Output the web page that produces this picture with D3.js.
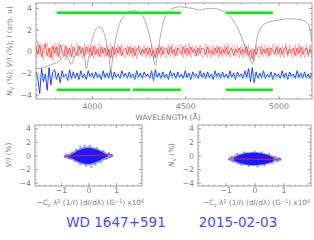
<!DOCTYPE html>
<html>
<head>
<meta charset="utf-8">
<script src="https://cdn.jsdelivr.net/npm/d3@7"></script>
<style>
  body { margin: 0; background: #fff; }
  svg { display: block; }
  text { font-family: "DejaVu Sans", sans-serif; }
</style>
</head>
<body>
<script>
var w = 314;
var h = 240;

// DATA ========================================

// wavelength grid of the polarisation spectra (10 A steps)
var lambdaStart = 3700, lambdaEnd = 5180, lambdaStep = 10;

// intensity spectrum (arb. units), [wavelength, value]
var intensity = [
  [3700,-1.6],[3740,-1.5],[3770,-1.3],[3800,-1.1],[3820,-1.0],[3840,-0.6],[3860,-0.3],
  [3875,-0.7],[3889,-1.2],[3900,-0.8],[3920,0.0],[3935,0.45],[3950,0.3],[3962,-0.6],
  [3970,-1.6],[3980,-0.8],[3995,0.6],[4010,1.6],[4030,2.2],[4045,2.25],[4060,1.9],
  [4075,1.0],[4090,-0.4],[4101,-1.8],[4112,-0.5],[4130,1.4],[4150,2.6],[4180,3.4],
  [4210,3.7],[4230,3.75],[4250,3.6],[4280,3.0],[4300,2.0],[4320,0.5],[4332,-0.8],
  [4340,-1.3],[4350,-0.5],[4365,1.2],[4385,2.8],[4410,3.7],[4440,4.0],[4470,4.1],
  [4500,4.05],[4540,3.95],[4580,3.8],[4620,3.95],[4650,3.95],[4690,3.8],[4730,3.4],
  [4770,2.5],[4800,1.4],[4830,0.0],[4850,-0.8],[4861,-1.15],[4872,-0.3],[4885,1.2],
  [4900,2.0],[4920,2.45],[4950,2.7],[4990,2.85],[5030,2.95],[5060,3.0],[5100,2.95],
  [5130,2.85],[5155,2.6],[5168,2.1],[5176,1.4],[5180,0.9]
];

// V/I (%) spectrum, dark red and light red
var stokesV = [
  0.4,-0.3,0.6,-0.5,0.2,0.7,-0.4,0.3,-0.6,0.5,
  -0.2,0.4,-0.5,0.6,0.1,-0.4,0.5,-0.3,0.3,-0.5,
  0.4,0.0,-0.4,0.5,-0.2,0.3,-0.5,0.4,-0.1,0.3,
  -0.4,0.5,-0.3,0.2,-0.5,0.4,-0.2,0.3,-0.4,0.2,
  -0.6,0.4,-0.3,0.3,-0.2,0.4,-0.4,0.1,0.3,-0.3,
  0.4,-0.2,0.3,-0.4,0.2,0.4,-0.3,0.2,-0.2,0.3,
  -0.3,0.3,-0.4,0.1,-0.6,0.3,-0.2,0.4,-0.3,0.2,
  0.3,-0.3,0.4,-0.2,0.2,-0.4,0.3,0.1,-0.3,0.4,
  -0.2,0.3,-0.3,0.4,-0.1,0.2,-0.4,0.3,-0.2,0.3,
  0.2,-0.3,0.4,-0.2,0.1,-0.3,0.3,-0.2,0.4,-0.3,
  0.2,-0.2,0.4,-0.3,0.1,0.3,-0.4,0.2,-0.1,0.3,
  -0.3,0.2,-0.2,0.4,-0.4,0.1,-0.7,0.2,-0.3,0.3,
  0.4,-0.3,0.2,-0.2,0.3,-0.4,0.3,0.1,-0.3,0.4,
  -0.2,0.3,-0.3,0.2,0.4,-0.3,0.2,-0.2,0.3,-0.4,
  0.3,-0.2,0.4,-0.3,0.1,0.3,-0.3,0.2,-0.1
];
var stokesVLight = [
  -0.6,0.9,-0.3,0.7,-0.8,0.5,0.8,-0.6,0.4,-0.9,
  0.7,-0.4,0.8,-0.7,0.5,0.6,-0.8,0.3,-0.5,0.7,
  -0.6,0.5,0.7,-0.5,0.4,-0.7,0.6,-0.3,0.6,-0.6,
  0.5,-0.7,0.6,-0.4,0.7,-0.5,0.4,-0.6,0.6,-0.5,
  0.7,-0.8,0.5,-0.6,0.6,-0.4,0.7,-0.5,-0.6,0.5,
  -0.5,0.6,-0.6,0.5,-0.7,0.6,0.4,-0.5,0.6,-0.6,
  0.5,-0.6,0.6,-0.8,0.4,-0.5,0.6,-0.6,0.5,-0.4,
  -0.6,0.6,-0.5,0.7,-0.6,0.5,-0.4,0.6,0.5,-0.6,
  0.6,-0.5,0.7,-0.6,0.5,-0.5,0.6,-0.4,0.6,-0.6,
  -0.5,0.7,-0.6,0.5,-0.6,0.6,-0.4,0.6,-0.6,0.5,
  -0.6,0.6,-0.5,0.7,-0.6,0.4,0.6,-0.5,0.6,-0.6,
  0.5,-0.6,0.7,-0.5,0.6,-0.8,0.3,-0.9,0.6,-0.5,
  -0.6,0.7,-0.5,0.6,-0.6,0.5,-0.4,0.6,0.6,-0.5,
  0.6,-0.6,0.5,-0.6,0.7,-0.5,0.6,-0.5,-0.6,0.6,
  -0.5,0.7,-0.6,0.5,-0.6,0.6,-0.5,0.6,-0.6
];

// null profile N_V (%), offset by -2: blue and cyan
var nullV = [
  -1.9,-2.5,-3.9,-1.6,-2.8,-2.1,-3.6,-1.5,-3.1,-1.9,
  -1.7,-2.6,-2.0,-2.9,-1.8,-2.4,-2.1,-2.7,-1.7,-2.5,
  -1.9,-2.5,-2.0,-2.6,-1.8,-2.4,-2.1,-2.6,-1.8,-2.3,
  -2.0,-2.5,-1.9,-2.4,-2.1,-2.6,-1.8,-2.4,-2.0,-2.5,
  -1.7,-2.6,-1.9,-2.4,-2.1,-2.5,-1.8,-2.3,-2.0,-2.5,
  -1.9,-2.4,-2.1,-2.6,-1.8,-2.4,-2.0,-2.5,-1.9,-2.3,
  -2.1,-2.5,-1.8,-2.7,-1.7,-2.4,-2.0,-2.5,-1.9,-2.4,
  -2.1,-2.6,-1.8,-2.3,-2.0,-2.5,-1.9,-2.4,-2.1,-2.5,
  -1.8,-2.4,-2.0,-2.6,-1.9,-2.3,-2.1,-2.5,-1.8,-2.4,
  -2.0,-2.5,-1.9,-2.4,-2.1,-2.6,-1.8,-2.3,-2.0,-2.5,
  -1.9,-2.4,-2.1,-2.5,-1.8,-2.4,-2.0,-2.6,-1.9,-2.3,
  -2.1,-2.5,-1.8,-2.4,-1.6,-2.8,-1.5,-2.9,-1.9,-2.5,
  -2.0,-2.4,-1.8,-2.5,-2.1,-2.4,-1.9,-2.6,-2.0,-2.3,
  -2.1,-2.5,-1.8,-2.4,-2.0,-2.6,-1.9,-2.3,-2.1,-2.5,
  -1.8,-2.4,-2.0,-2.5,-1.9,-2.4,-2.1,-2.5,-2.0
];
var nullVLight = [
  -2.2,-2.5,-2.3,-2.6,-2.1,-2.4,-2.3,-2.5,-2.2,-2.4,
  -2.3,-2.5,-2.2,-2.5,-2.3,-2.4,-2.2,-2.5,-2.3,-2.6,
  -2.2,-2.4,-2.3,-2.4,-2.2,-2.5,-2.3,-2.4,-2.2,-2.4,
  -2.3,-2.5,-2.2,-2.5,-2.3,-2.4,-2.2,-2.5,-2.3,-2.4,
  -2.2,-2.5,-2.3,-2.4,-2.2,-2.5,-2.3,-2.4,-2.2,-2.4,
  -2.3,-2.5,-2.2,-2.5,-2.3,-2.4,-2.2,-2.5,-2.3,-2.4,
  -2.2,-2.4,-2.3,-2.6,-2.2,-2.4,-2.3,-2.5,-2.2,-2.5,
  -2.3,-2.4,-2.2,-2.5,-2.3,-2.5,-2.2,-2.4,-2.3,-2.5,
  -2.2,-2.5,-2.3,-2.4,-2.2,-2.5,-2.3,-2.4,-2.2,-2.4,
  -2.3,-2.5,-2.2,-2.5,-2.3,-2.4,-2.2,-2.5,-2.3,-2.4,
  -2.2,-2.5,-2.3,-2.5,-2.2,-2.4,-2.3,-2.5,-2.2,-2.4,
  -2.3,-2.4,-2.2,-2.5,-2.3,-2.5,-2.1,-2.6,-2.3,-2.4,
  -2.2,-2.5,-2.3,-2.5,-2.2,-2.4,-2.3,-2.5,-2.2,-2.5,
  -2.3,-2.4,-2.2,-2.5,-2.3,-2.5,-2.2,-2.4,-2.3,-2.5,
  -2.2,-2.5,-2.3,-2.4,-2.2,-2.5,-2.3,-2.5,-2.2
];

// spectral regions used in the fit: [from, to, level]
var regions = [
  [3812, 4477, 3.55], [4718, 4970, 3.55],
  [3812, 4205, -3.55], [4220, 4477, -3.55], [4718, 4970, -3.55]
];

var mainXTicks = [4000, 4500, 5000];
var mainYTicks = [-4, -2, 0, 2, 4];
var scatXTicks = [-1, 0, 1];
var scatYTicks = [-4, -2, 0, 2, 4];

// scatter clouds: outer and inner envelope [x, top, bottom]
var cloudVOuter = [[-0.9,-0.05,-0.3],[-0.75,0.2,-0.45],[-0.55,0.5,-0.7],[-0.4,0.95,-1.1],
  [-0.2,1.25,-1.35],[0.0,1.35,-1.5],[0.2,1.2,-1.3],[0.4,0.9,-1.0],[0.6,0.5,-0.6],
  [0.75,0.3,-0.4],[0.9,0.1,-0.15]];
var cloudVInner = [[-0.75,-0.05,-0.25],[-0.55,0.25,-0.45],[-0.4,0.7,-0.85],[-0.2,1.05,-1.15],
  [0.0,1.15,-1.3],[0.2,1.0,-1.1],[0.4,0.7,-0.75],[0.55,0.35,-0.4],[0.7,0.1,-0.15]];
var cloudNOuter = [[-0.9,-0.45,-0.65],[-0.8,-0.2,-0.85],[-0.6,0.15,-1.15],[-0.4,0.4,-1.4],
  [-0.2,0.5,-1.5],[0.0,0.55,-1.55],[0.2,0.45,-1.5],[0.4,0.3,-1.35],[0.6,0.0,-1.05],
  [0.8,-0.3,-0.85],[0.92,-0.45,-0.7]];
var cloudNInner = [[-0.7,-0.3,-0.8],[-0.5,0.1,-1.1],[-0.3,0.35,-1.35],[0.0,0.45,-1.45],
  [0.3,0.3,-1.3],[0.5,0.0,-1.1],[0.65,-0.3,-0.85]];

// stray points at the cloud edges [x, y]
var strayV = [[-0.85,-0.1],[-0.8,0.15],[-0.7,-0.4],[-0.6,0.45],[-0.5,-0.75],[-0.45,0.85],
  [-0.3,1.3],[-0.15,1.45],[0.05,1.4],[0.1,-1.65],[-0.1,-1.5],[0.3,1.05],[0.45,-1.0],
  [0.55,0.65],[0.65,-0.5],[0.75,0.35],[0.85,0.05],[0.8,-0.2],[-0.3,-1.3],[0.25,-1.35]];
var strayN = [[-0.88,-0.5],[-0.8,-0.25],[-0.75,-0.85],[-0.6,0.2],[-0.55,-1.15],[-0.35,0.45],
  [-0.2,-1.5],[0.0,0.55],[0.1,-1.6],[0.25,0.45],[0.35,-1.45],[0.5,0.2],[0.6,-1.1],
  [0.7,-0.25],[0.8,-0.8],[0.9,-0.55],[0.85,-0.4],[-0.45,-1.35]];

// fitted lines [x0, y0, x1, y1]
var fitV = [-0.85, -0.12, 0.85, 0.12];
var fitN = [-0.8, -0.48, 0.85, -0.6];

var starName = "WD 1647+591";
var obsDate = "2015-02-03";

// DRAWING =====================================

var svg = d3.select("body")
            .append("svg")
            .attr("width", w)
            .attr("height", h);

var grey = "#8a8a8a";
var lambdas = d3.range(lambdaStart, lambdaEnd + 1, lambdaStep);

function frame(g, xs, ys, xt, yt, xMinor, yMinor, pad) {
    var fmt = d3.format("d");
    var axes = [
        [d3.axisBottom(xs).tickValues(xt).tickFormat(fmt), ys.range()[0], 0, true, pad],
        [d3.axisTop(xs).tickValues(xt), ys.range()[1], 0, false, 4],
        [d3.axisLeft(ys).tickValues(yt).tickFormat(fmt), 0, xs.range()[0], true, 4],
        [d3.axisRight(ys).tickValues(yt), 0, xs.range()[1], false, 4]
    ];
    var minors = [
        [d3.axisBottom(xs).tickValues(xMinor), ys.range()[0], 0],
        [d3.axisTop(xs).tickValues(xMinor), ys.range()[1], 0],
        [d3.axisLeft(ys).tickValues(yMinor), 0, xs.range()[0]],
        [d3.axisRight(ys).tickValues(yMinor), 0, xs.range()[1]]
    ];
    minors.forEach(function(m) {
        var a = g.append("g")
            .attr("transform", "translate(" + m[2] + "," + m[1] + ")")
            .call(m[0].tickSize(-1.6).tickFormat(""));
        a.select(".domain").remove();
        a.selectAll("line").attr("stroke", grey).attr("stroke-width", 0.6);
    });
    axes.forEach(function(m) {
        var a = g.append("g")
            .attr("transform", "translate(" + m[2] + "," + m[1] + ")")
            .call(m[0].tickSize(-3.2).tickPadding(m[4]));
        a.select(".domain").remove();
        a.selectAll("line").attr("stroke", grey).attr("stroke-width", 0.7);
        if (m[3]) {
            a.selectAll("text").attr("fill", "#808080").attr("font-size", "7.8px")
                .attr("font-family", "DejaVu Sans, sans-serif");
        } else {
            a.selectAll("text").remove();
        }
    });
    g.append("rect")
        .attr("x", xs.range()[0]).attr("y", ys.range()[1])
        .attr("width", xs.range()[1] - xs.range()[0])
        .attr("height", ys.range()[0] - ys.range()[1])
        .attr("fill", "none").attr("stroke", grey).attr("stroke-width", 0.8);
}

// upper panel: spectra
var x = d3.scaleLinear().domain([3700, 5180]).range([36, 312]);
var y = d3.scaleLinear().domain([-4.4, 4.45]).range([99, 3]);

var specPanel = svg.append("g");
var spec = d3.line()
    .x(function(d, i) { return x(lambdas[i]); })
    .y(function(d) { return y(d); });

specPanel.append("path").attr("d", spec(stokesVLight))
    .attr("fill", "none").attr("stroke", "#ff9a9a").attr("stroke-width", 0.8);
specPanel.append("path").attr("d", spec(stokesV))
    .attr("fill", "none").attr("stroke", "#ff2020").attr("stroke-width", 0.7);
specPanel.append("path").attr("d", spec(nullV))
    .attr("fill", "none").attr("stroke", "#2525ff").attr("stroke-width", 0.9);
specPanel.append("path").attr("d", spec(nullVLight))
    .attr("fill", "none").attr("stroke", "#20c8ff").attr("stroke-width", 0.8);

specPanel.append("path")
    .attr("d", d3.line()
        .x(function(d) { return x(d[0]); })
        .y(function(d) { return y(d[1]); })
        .curve(d3.curveMonotoneX)(intensity))
    .attr("fill", "none").attr("stroke", "#8a8a8a").attr("stroke-width", 0.7);

specPanel.selectAll(".region")
    .data(regions)
    .enter().append("line")
        .attr("x1", function(d) { return x(d[0]); })
        .attr("x2", function(d) { return x(d[1]); })
        .attr("y1", function(d) { return y(d[2]); })
        .attr("y2", function(d) { return y(d[2]); })
        .attr("stroke", "#00ee00")
        .attr("stroke-width", 2.6);

frame(specPanel, x, y, mainXTicks, mainYTicks,
      d3.range(3700, 5181, 100), d3.range(-4, 4.01, 0.5), 4);

specPanel.append("text")
    .attr("x", 168).attr("y", 120)
    .attr("text-anchor", "middle")
    .attr("font-family", "DejaVu Serif, serif")
    .attr("font-size", "7.5px")
    .attr("fill", "#808080")
    .text("WAVELENGTH (\u00c5)");

var ylab = specPanel.append("text")
    .attr("transform", "translate(12,51) rotate(-90)")
    .attr("text-anchor", "middle")
    .attr("font-family", "DejaVu Serif, serif")
    .attr("font-size", "7.3px")
    .attr("fill", "#808080");
ylab.append("tspan").attr("font-style", "italic").text("N");
ylab.append("tspan").attr("font-size", "5px").attr("dy", 1.5).text("V");
ylab.append("tspan").attr("dy", -1.5).text(" (%); ");
ylab.append("tspan").attr("font-style", "italic").text("V/I");
ylab.append("tspan").text(" (%); ");
ylab.append("tspan").attr("font-style", "italic").text("I");
ylab.append("tspan").text(" (arb. u)");

// lower panels: scatter plots
function scatterPanel(x0, x1, outer, inner, stray, fit, label) {
    var sx = d3.scaleLinear().domain([-1.95, 1.95]).range([x0, x1]);
    var sy = d3.scaleLinear().domain([-4.5, 4.5]).range([186, 125]);
    var g = svg.append("g");

    var area = d3.area()
        .x(function(d) { return sx(d[0]); })
        .y0(function(d) { return sy(d[2]); })
        .y1(function(d) { return sy(d[1]); })
        .curve(d3.curveBasis);

    g.append("path").attr("d", area(outer))
        .attr("fill", "#6a6aff").attr("opacity", 0.75);
    g.append("path").attr("d", area(inner))
        .attr("fill", "#1a1aff");
    g.selectAll(".stray")
        .data(stray)
        .enter().append("rect")
            .attr("x", function(d) { return sx(d[0]) - 1; })
            .attr("y", function(d) { return sy(d[1]) - 1; })
            .attr("width", 2).attr("height", 2)
            .attr("fill", "#6060ff").attr("opacity", 0.7);
    g.append("line")
        .attr("x1", sx(fit[0])).attr("y1", sy(fit[1]))
        .attr("x2", sx(fit[2])).attr("y2", sy(fit[3]))
        .attr("stroke", "#ff2020").attr("stroke-width", 0.9);

    frame(g, sx, sy, scatXTicks, scatYTicks,
          d3.range(-1.8, 1.81, 0.2), d3.range(-4, 4.01, 0.5), 1.5);

    var xl = g.append("text")
        .attr("x", (x0 + x1) / 2 + 2).attr("y", 205)
        .attr("text-anchor", "middle")
        .attr("font-family", "DejaVu Serif, serif")
        .attr("font-size", "7.3px")
        .attr("fill", "#808080");
    xl.append("tspan").text("\u2212");
    xl.append("tspan").attr("font-style", "italic").text("C");
    xl.append("tspan").attr("font-size", "5px").attr("dy", 1.5).text("z");
    xl.append("tspan").attr("dy", -1.5).text(" \u03bb");
    xl.append("tspan").attr("font-size", "5px").attr("dy", -2.5).text("2");
    xl.append("tspan").attr("dy", 2.5).text(" (1/");
    xl.append("tspan").attr("font-style", "italic").text("I");
    xl.append("tspan").text(") (d");
    xl.append("tspan").attr("font-style", "italic").text("I");
    xl.append("tspan").text("/d\u03bb) (G");
    xl.append("tspan").attr("font-size", "5px").attr("dy", -2.5).text("\u22121");
    xl.append("tspan").attr("dy", 2.5).text(") x10");
    xl.append("tspan").attr("font-size", "5px").attr("dy", -2.5).text("6");

    var yl = g.append("text")
        .attr("transform", "translate(" + (x0 - 24) + ",155) rotate(-90)")
        .attr("text-anchor", "middle")
        .attr("font-family", "DejaVu Serif, serif")
        .attr("font-size", "7.3px")
        .attr("fill", "#808080");
    if (label == "V") {
        yl.append("tspan").attr("font-style", "italic").text("V/I");
        yl.append("tspan").text(" (%)");
    } else {
        yl.append("tspan").attr("font-style", "italic").text("N");
        yl.append("tspan").attr("font-size", "5px").attr("dy", 1.5).text("V");
        yl.append("tspan").attr("dy", -1.5).text(" (%)");
    }
}

scatterPanel(35, 142, cloudVOuter, cloudVInner, strayV, fitV, "V");
scatterPanel(198, 311, cloudNOuter, cloudNInner, strayN, fitN, "N");

svg.append("text")
    .attr("x", 116).attr("y", 227)
    .attr("text-anchor", "middle")
    .attr("font-family", "Liberation Mono, monospace")
    .attr("font-size", "13.5px")
    .attr("fill", "#4a4aff")
    .text(starName);

svg.append("text")
    .attr("x", 238).attr("y", 227)
    .attr("text-anchor", "middle")
    .attr("font-family", "Liberation Mono, monospace")
    .attr("font-size", "13.5px")
    .attr("fill", "#4a4aff")
    .text(obsDate);
</script>
</body>
</html>
